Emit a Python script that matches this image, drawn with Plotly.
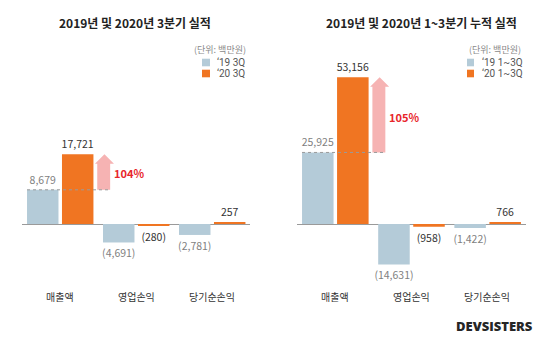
import plotly.graph_objects as go

# ---------------- data ----------------
categories = ["매출액", "영업손익", "당기순손익"]
q3_2019 = [8679, -4691, -2781]
q3_2020 = [17721, -280, 257]
cum_2019 = [25925, -14631, -1422]
cum_2020 = [53156, -958, 766]
titles = ["2019년 및 2020년 3분기 실적", "2019년 및 2020년 1~3분기 누적 실적"]
legend_labels = [["‘19 3Q", "‘20 3Q"], ["‘19 1~3Q", "‘20 1~3Q"]]
unit_label = "(단위: 백만원)"
brand = "DEVSISTERS"

# ---------------- style ----------------
W, H = 550, 345
FONT = "Noto Sans CJK KR"
BLUE = "#b4cbd8"
ORANGE = "#f07522"
PINK = "#f6b3b3"
RED = "#e8262b"
BLUE_TXT = "#7f7f7f"
ORANGE_TXT = "#333333"

TOP_PX, BOT_PX, ZERO_PX = 60, 300, 224
BAR_W = 0.414
OFF_A, OFF_B = -0.434, 0.026
LEG_FS = 10
LEG_Y = 68.0
LEG_STEP = 1.3 * LEG_FS * 0.85


def px_x(p):
    return p / W


def px_y(p):
    return 1 - p / H


def fmt(v):
    return f"{v:,}" if v >= 0 else f"({-v:,})"


panels = [
    dict(a=q3_2019, b=q3_2020, xa="x", ya="y", xdom=(22, 250), scale=0.00394,
         title_x=135, unit_x=220, sq=(202, 210), txt_x=215),
    dict(a=cum_2019, b=cum_2020, xa="x2", ya="y2", xdom=(297, 525.5), scale=0.00276,
         title_x=421.5, unit_x=495, sq=(467, 474), txt_x=480),
]

fig = go.Figure()
shapes, annotations = [], []
layout_axes = {}

for i, p in enumerate(panels):
    for vals, off, col, tcol in [(p["a"], OFF_A, BLUE, BLUE_TXT), (p["b"], OFF_B, ORANGE, ORANGE_TXT)]:
        fig.add_trace(go.Bar(
            x=list(range(len(categories))), y=vals, width=BAR_W, offset=off,
            marker=dict(color=col, line=dict(width=0)),
            text=[fmt(v) for v in vals], textposition="outside",
            textfont=dict(family=FONT, size=10.5, color=tcol),
            constraintext="none", cliponaxis=False,
            xaxis=p["xa"], yaxis=p["ya"], showlegend=False, hoverinfo="skip"))

    sc = p["scale"]
    ytop = (ZERO_PX - TOP_PX) / sc
    ybot = -(BOT_PX - ZERO_PX) / sc
    xname = "xaxis" if i == 0 else "xaxis2"
    yname = "yaxis" if i == 0 else "yaxis2"
    layout_axes[xname] = dict(domain=[px_x(p["xdom"][0]), px_x(p["xdom"][1])],
                              range=[-0.5, len(categories) - 0.5], showgrid=False,
                              zeroline=False, showticklabels=False, showline=False,
                              anchor=p["ya"])
    layout_axes[yname] = dict(domain=[px_y(BOT_PX), px_y(TOP_PX)], range=[ybot, ytop],
                              showgrid=False, showticklabels=False, showline=False,
                              zeroline=True, zerolinecolor="#9a9a9a", zerolinewidth=1,
                              anchor=p["xa"])

    # growth arrow on first category
    va, vb = p["a"][0], p["b"][0]
    head = 9.5 / sc
    yh = vb - head
    path = (f"M 0.49 {va} L 0.49 {yh} L 0.46 {yh} L 0.585 {vb} L 0.71 {yh} "
            f"L 0.66 {yh} L 0.66 {va} Z")
    shapes.append(dict(type="path", path=path, xref=p["xa"], yref=p["ya"],
                       fillcolor=PINK, line=dict(width=0), layer="above"))
    shapes.append(dict(type="line", x0=OFF_A, x1=0.66, y0=va, y1=va, xref=p["xa"], yref=p["ya"],
                       line=dict(color="#9a9a9a", width=1, dash="dot"), layer="above"))
    pct = round((vb / va - 1) * 100)
    annotations.append(dict(x=0.68, y=va + 0.47 * (vb - va), xref=p["xa"], yref=p["ya"],
                            text=f"<b>{pct}%</b>", showarrow=False, xanchor="left",
                            yanchor="middle", font=dict(family=FONT, size=11, color=RED)))

    # category labels
    for k, c in enumerate(categories):
        annotations.append(dict(x=k, y=px_y(296), xref=p["xa"], yref="paper", text=c,
                                showarrow=False, xanchor="center", yanchor="middle",
                                font=dict(family=FONT, size=10, color="#333333")))

    # title
    annotations.append(dict(x=px_x(p["title_x"]), y=px_y(22), xref="paper", yref="paper",
                            text=f"<b>{titles[i]}</b>", showarrow=False, xanchor="center",
                            yanchor="middle", font=dict(family=FONT, size=12, color="#222222")))
    # unit + legend
    annotations.append(dict(x=px_x(p["unit_x"]), y=px_y(49.5), xref="paper", yref="paper",
                            text=unit_label, showarrow=False, xanchor="center", yanchor="middle",
                            font=dict(family=FONT, size=9, color="#8a8a8a")))
    for j, col in enumerate([BLUE, ORANGE]):
        yc = LEG_Y + (j - 0.5) * 11
        shapes.append(dict(type="rect", xref="paper", yref="paper",
                           x0=px_x(p["sq"][0]), x1=px_x(p["sq"][1]),
                           y0=px_y(yc + 3.8), y1=px_y(yc - 3.8),
                           fillcolor=col, line=dict(width=0)))
        annotations.append(dict(x=px_x(p["txt_x"]), y=px_y(yc), xref="paper", yref="paper",
                                text=legend_labels[i][j], showarrow=False,
                                xanchor="left", yanchor="middle", align="left",
                                font=dict(family="Roboto", size=LEG_FS, color="#555555")))

annotations.append(dict(x=px_x(494.5), y=px_y(326), xref="paper", yref="paper", text=brand,
                        showarrow=False, xanchor="center", yanchor="middle",
                        font=dict(family="Open Sans", size=13, color="#262626", weight=800)))

fig.update_layout(width=W, height=H, margin=dict(l=0, r=0, t=0, b=0),
                  paper_bgcolor="white", plot_bgcolor="white", barmode="overlay",
                  shapes=shapes, annotations=annotations, showlegend=False,
                  **layout_axes)

fig.write_html("out.html")
